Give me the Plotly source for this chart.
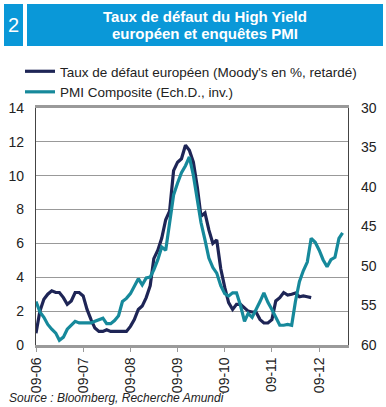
import pandas as pd
import plotly.graph_objects as go

# ---- data ----
default_rate = [0.7, 2.0, 2.7, 3.0, 3.2, 3.1, 3.1, 2.8, 2.4, 2.6, 3.1, 3.1, 2.9, 2.1, 1.5, 1.0,
                0.8, 0.8, 0.9, 0.8, 0.8, 0.8, 0.8, 0.8, 1.1, 1.5, 2.1, 2.3, 2.8, 3.5, 5.1, 5.6,
                6.3, 7.4, 7.9, 10.3, 10.8, 11.0, 11.8, 11.5, 10.8, 9.3, 7.6, 7.8, 6.8, 6.0, 6.2,
                4.5, 3.4, 2.5, 2.1, 2.4, 2.4, 2.2, 2.0, 1.95, 1.95, 1.5, 1.3, 1.3, 1.5, 2.6, 2.8,
                3.1, 2.95, 3.0, 3.07, 2.85, 2.9, 2.85, 2.8]
pmi = [54.5, 55.8, 56.5, 57.4, 58.0, 58.5, 59.4, 59.0, 58.0, 57.5, 57.0, 57.2, 57.2, 57.3,
       57.2, 57.0, 56.8, 56.6, 57.3, 57.3, 56.9, 56.3, 54.5, 54.1, 53.5, 52.5, 51.6, 52.4,
       51.5, 51.4, 50.5, 49.2, 47.6, 48.0, 44.5, 41.0, 39.5, 38.2, 37.3, 36.2, 38.5, 41.5,
       44.5, 46.7, 49.0, 50.2, 50.9, 52.5, 53.5, 53.8, 53.4, 53.4, 55.0, 57.0, 56.0, 56.5,
       55.6, 54.5, 53.4, 54.6, 55.5, 56.6, 57.5, 57.5, 57.4, 57.5, 54.5, 52.0, 50.6, 49.5,
       46.5, 47.0, 48.0, 49.2, 50.1, 49.2, 48.9, 46.5, 45.8]
start = "2006-09-01"
dates_default = [d.strftime("%Y-%m-%d") for d in pd.date_range(start, periods=len(default_rate), freq="MS")]
dates_pmi = [d.strftime("%Y-%m-%d") for d in pd.date_range(start, periods=len(pmi), freq="MS")]
tick_dates = [d.strftime("%Y-%m-%d") for d in pd.date_range(start, periods=7, freq="12MS")]
tick_labels = ["09-06", "09-07", "09-08", "09-09", "09-10", "09-11", "09-12"]
left_ticks = [0, 2, 4, 6, 8, 10, 12, 14]
right_ticks = [30, 35, 40, 45, 50, 55, 60]

title_lines = ["Taux de défaut du High Yield", "européen et enquêtes PMI"]
chart_number = "2"
name_default = "Taux de défaut européen (Moody's en %, retardé)"
name_pmi = "PMI Composite (Ech.D., inv.)"
source = "Source : Bloomberg, Recherche Amundi"

NAVY = "#1e2556"
TEAL = "#16899b"
BLUE = "#0a98d8"
FONT = "Liberation Sans, Arial, sans-serif"

W, H = 386, 407
L, R, T, B = 36, 38, 108, 62
PW, PH = W - L - R, H - T - B


def px(x):
    return (x - L) / PW


def py(y):
    return (H - B - y) / PH


fig = go.Figure()
fig.add_trace(go.Scatter(x=dates_default, y=default_rate, name=name_default, mode="lines",
                         line=dict(color=NAVY, width=3.2)))
fig.add_trace(go.Scatter(x=dates_pmi, y=pmi, name=name_pmi, mode="lines", yaxis="y2",
                         line=dict(color=TEAL, width=3.2)))

tick_font = dict(size=14, color="#222")
fig.update_layout(
    width=W, height=H,
    margin=dict(l=L, r=R, t=T, b=B, autoexpand=False),
    paper_bgcolor="white", plot_bgcolor="white",
    font=dict(family=FONT, size=13, color="#222"),
    showlegend=True,
    legend=dict(x=px(20), y=py(56), xanchor="left", yanchor="top",
                bgcolor="rgba(0,0,0,0)", font=dict(size=13.5, color="#222"),
                tracegroupgap=0),
    xaxis=dict(type="date", range=["2006-09-01", "2013-04-12"], automargin=False,
               tickmode="array", tickvals=tick_dates, ticktext=tick_labels, tickangle=-90,
               showgrid=False, showline=True, linecolor="#9a9a9a", linewidth=2.5,
               mirror=True, ticks="outside", ticklen=4, tickcolor="#9a9a9a",
               tickfont=tick_font),
    yaxis=dict(range=[0, 14], automargin=False, tickmode="array", tickvals=left_ticks,
               showgrid=True, gridcolor="#999999", gridwidth=1, showline=True,
               linecolor="#444", linewidth=1.2, zeroline=False, ticks="outside",
               ticklen=8, tickcolor="rgba(0,0,0,0)", tickfont=tick_font),
    yaxis2=dict(range=[60, 30], automargin=False, tickmode="array", tickvals=right_ticks,
                overlaying="y", side="right", showgrid=False, showline=True,
                linecolor="#444", linewidth=1.2, zeroline=False, ticks="outside",
                ticklen=9, tickcolor="rgba(0,0,0,0)", tickfont=tick_font),
)

# header boxes
fig.add_shape(type="rect", xref="paper", yref="paper", x0=px(4), x1=px(23),
              y0=py(46), y1=py(4), fillcolor=BLUE, line_width=0, layer="below")
fig.add_shape(type="rect", xref="paper", yref="paper", x0=px(27), x1=px(383),
              y0=py(46), y1=py(4), fillcolor=BLUE, line_width=0, layer="below")
fig.add_annotation(xref="paper", yref="paper", x=px(13.5), y=py(25.5),
                   xanchor="center", yanchor="middle",
                   text=chart_number, showarrow=False, font=dict(size=20, color="white"))
for line, yy in zip(title_lines, [16.5, 33.5]):
    fig.add_annotation(xref="paper", yref="paper", x=px(205), y=py(yy),
                       xanchor="center", yanchor="middle",
                       text="<b>" + line + "</b>", showarrow=False,
                       font=dict(size=15, color="white"), align="center")
fig.add_annotation(xref="paper", yref="paper", x=px(7), y=py(398),
                   xanchor="left", yanchor="middle",
                   text="<i>" + source + "</i>", showarrow=False,
                   font=dict(size=12, color="#222"))

fig.write_html("out.html", config={"displayModeBar": False},
               post_script="document.body.style.margin='0';document.body.style.overflow='hidden';")
